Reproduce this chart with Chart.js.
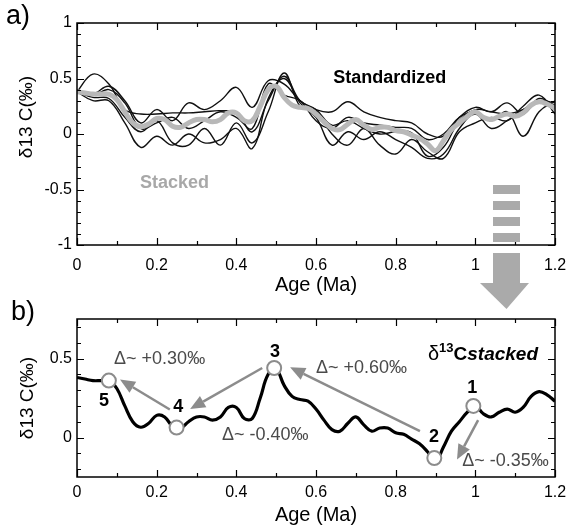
<!DOCTYPE html>
<html>
<head>
<meta charset="utf-8">
<script src="https://cdn.jsdelivr.net/npm/chart.js@4.4.0/dist/chart.umd.min.js"></script>
<style>
  body { margin: 0; background: #fff; }
  #quadro { position: relative; width: 571px; height: 530px; }
  #quadro canvas { position: absolute; left: 0; top: 0; }
</style>
</head>
<body>
<div id="quadro">
  <canvas id="grafico-a" width="571" height="530"></canvas>
  <canvas id="grafico-b" width="571" height="530"></canvas>
</div>
<script>
/* --- Dados --- */
const IDADES = [0, 0.02, 0.04, 0.06, 0.08, 0.1, 0.12, 0.14, 0.16, 0.18, 0.2, 0.22, 0.24, 0.26, 0.28, 0.3,
  0.32, 0.34, 0.36, 0.38, 0.4, 0.42, 0.44, 0.46, 0.48, 0.5, 0.52, 0.54, 0.56, 0.58, 0.6, 0.62, 0.64, 0.66,
  0.68, 0.7, 0.72, 0.74, 0.76, 0.78, 0.8, 0.82, 0.84, 0.86, 0.88, 0.9, 0.92, 0.94, 0.96, 0.98, 1, 1.02,
  1.04, 1.06, 1.08, 1.1, 1.12, 1.14, 1.16, 1.18, 1.2];
const EMPILHADO = [0.38, 0.37, 0.36, 0.36, 0.36, 0.31, 0.20, 0.10, 0.065, 0.09, 0.14, 0.13, 0.07, 0.06, 0.10,
  0.13, 0.13, 0.11, 0.13, 0.19, 0.19, 0.12, 0.12, 0.25, 0.40, 0.43, 0.33, 0.26, 0.24, 0.23, 0.18, 0.11, 0.05,
  0.04, 0.09, 0.13, 0.08, 0.04, 0.06, 0.06, 0.03, 0.02, -0.01, -0.04, -0.09, -0.15, -0.06, 0.04, 0.10, 0.16,
  0.20, 0.15, 0.13, 0.16, 0.18, 0.16, 0.19, 0.26, 0.29, 0.27, 0.23];

const IDADES_PADRAO = [0, 0.04, 0.08, 0.12, 0.16, 0.2, 0.24, 0.28, 0.32, 0.36, 0.4, 0.44, 0.48, 0.52, 0.56,
  0.6, 0.64, 0.68, 0.72, 0.76, 0.8, 0.84, 0.88, 0.92, 0.96, 1, 1.04, 1.08, 1.12, 1.16, 1.2];
const CURVA_A = [0.38, 0.54, 0.45, 0.22, 0.18, 0.18, 0.19, 0.19, 0.20, 0.21, 0.19, 0.02, 0.30, 0.52, 0.30, 0.22,
  0.08, 0.12, 0.05, 0.00, 0.02, 0.01, -0.20, -0.12, 0.12, 0.22, 0.20, 0.18, 0.22, 0.30, 0.26];
const CURVA_B = [0.38, 0.36, 0.43, 0.30, 0.10, 0.22, 0.12, 0.28, 0.22, 0.30, 0.42, 0.24, 0.48, 0.45, 0.30, 0.22,
  0.20, 0.29, 0.20, 0.15, 0.12, 0.10, 0.00, -0.02, 0.15, 0.24, 0.20, 0.28, 0.18, 0.32, 0.25];
const CURVA_C = [0.38, 0.30, 0.30, 0.10, -0.12, -0.02, -0.10, 0.00, -0.08, -0.05, 0.05, -0.13, 0.32, 0.50, 0.28, 0.15,
  -0.10, 0.02, -0.05, 0.02, -0.05, -0.12, -0.22, -0.18, 0.05, 0.18, 0.05, 0.12, 0.22, 0.30, 0.28];
const CURVA_D = [0.38, 0.33, 0.32, 0.15, 0.02, 0.12, -0.08, -0.10, 0.05, -0.10, 0.10, -0.08, 0.20, 0.55, 0.25, 0.20,
  0.00, -0.10, 0.05, -0.10, -0.18, -0.05, -0.16, -0.22, 0.02, 0.10, 0.15, 0.12, 0.25, 0.35, 0.18];
const CURVA_E = [0.40, 0.35, 0.40, 0.28, 0.05, 0.10, 0.15, 0.05, 0.12, 0.20, 0.15, 0.05, 0.45, 0.35, 0.30, 0.12,
  0.05, 0.15, 0.10, 0.08, 0.06, 0.05, -0.05, 0.00, 0.15, 0.20, 0.12, 0.20, -0.02, 0.20, 0.30];

const X_TICKS = [0, 0.2, 0.4, 0.6, 0.8, 1, 1.2];
const Y_TICKS_A = [-1, -0.5, 0, 0.5, 1];
const Y_TICKS_B = [0, 0.5];

/* marcos numerados: idade, valor */
const MARCOS_ROTULOS = ['1', '2', '3', '4', '5'];
const MARCOS_IDADE = [0.995, 0.897, 0.495, 0.25, 0.08];
const MARCOS_VALOR = [0.20, -0.13, 0.44, 0.063, 0.36];

/* setas: [idade inicio, valor inicio, idade fim, valor fim] */
const SETAS = [
  [0.233, 0.177, 0.108, 0.367],
  [0.465, 0.44, 0.284, 0.18],
  [0.861, 0.04, 0.535, 0.445],
  [1.007, 0.11, 0.954, -0.14],
];
const DELTAS = ['Δ~ +0.30‰', 'Δ~ -0.40‰', 'Δ~ +0.60‰', 'Δ~ -0.35‰'];
const DELTAS_POS = [[0.093, 0.494], [0.364, 0.013], [0.600, 0.437], [0.967, -0.152]];

const FONTE = 'Liberation Sans, Arial, sans-serif';
const CINZA = '#8c8c8c';

const pares = (xs, ys) => xs.map((x, i) => ({ x, y: ys[i] }));
const fixarTicks = (lista) => (s) => { s.ticks = lista.map(v => ({ value: v })); };

/* --- Moldura com ticks internos --- */
const moldura = {
  id: 'moldura',
  afterDraw(chart, args, opts) {
    const { ctx, chartArea: a, scales: { x, y } } = chart;
    ctx.save();
    ctx.strokeStyle = '#000';
    ctx.lineWidth = 1.5;
    ctx.strokeRect(a.left, a.top, a.right - a.left, a.bottom - a.top);
    ctx.lineWidth = 1.2;
    ctx.beginPath();
    for (let i = 0; i <= 12; i++) {
      const px = Math.round(x.getPixelForValue(i / 10)) + 0.5;
      const len = i % 2 === 0 ? 7 : 4;
      ctx.moveTo(px, a.bottom); ctx.lineTo(px, a.bottom - len);
      ctx.moveTo(px, a.top); ctx.lineTo(px, a.top + len);
    }
    for (let i = opts.yIni; i <= opts.yFim; i++) {
      const py = Math.round(y.getPixelForValue(i / 10)) + 0.5;
      const len = i % 5 === 0 ? 7 : 4;
      ctx.moveTo(a.left, py); ctx.lineTo(a.left + len, py);
      ctx.moveTo(a.right, py); ctx.lineTo(a.right - len, py);
    }
    ctx.stroke();
    ctx.restore();
  }
};

function texto(ctx, str, px, py, fonte, cor, alinhar) {
  ctx.font = fonte;
  ctx.fillStyle = cor;
  ctx.textAlign = alinhar || 'left';
  ctx.textBaseline = 'middle';
  ctx.fillText(str, px, py);
}

/* --- Anotacoes painel a --- */
const anotacoesA = {
  id: 'anotacoesA',
  afterDraw(chart) {
    const { ctx, scales: { x, y } } = chart;
    ctx.save();
    texto(ctx, 'a)', 6, 17, '27px ' + FONTE, '#000');
    texto(ctx, 'Standardized', x.getPixelForValue(0.643), y.getPixelForValue(0.505), 'bold 18px ' + FONTE, '#000');
    texto(ctx, 'Stacked', x.getPixelForValue(0.158), y.getPixelForValue(-0.44), 'bold 18px ' + FONTE, '#a8a8a8');
    ctx.translate(27, 117);
    ctx.rotate(-Math.PI / 2);
    texto(ctx, 'δ13 C(‰)', 0, 0, '19px ' + FONTE, '#000', 'center');
    ctx.restore();
  }
};

/* --- Anotacoes painel b --- */
function seta(ctx, x0, y0, x1, y1) {
  const ang = Math.atan2(y1 - y0, x1 - x0);
  const cab = 15, larg = 6.5;
  const bx = x1 - cab * Math.cos(ang), by = y1 - cab * Math.sin(ang);
  ctx.beginPath();
  ctx.moveTo(x0, y0);
  ctx.lineTo(bx, by);
  ctx.stroke();
  ctx.beginPath();
  ctx.moveTo(x1, y1);
  ctx.lineTo(bx + larg * Math.sin(ang), by - larg * Math.cos(ang));
  ctx.lineTo(bx - larg * Math.sin(ang), by + larg * Math.cos(ang));
  ctx.closePath();
  ctx.fill();
}

const anotacoesB = {
  id: 'anotacoesB',
  afterDraw(chart) {
    const { ctx, scales: { x, y } } = chart;
    ctx.save();
    texto(ctx, 'b)', 11, 313, '27px ' + FONTE, '#000');

    ctx.strokeStyle = CINZA;
    ctx.fillStyle = CINZA;
    ctx.lineWidth = 2.5;
    SETAS.forEach(([a0, v0, a1, v1]) => {
      seta(ctx, x.getPixelForValue(a0), y.getPixelForValue(v0), x.getPixelForValue(a1), y.getPixelForValue(v1));
    });

    DELTAS.forEach((t, i) => {
      texto(ctx, t, x.getPixelForValue(DELTAS_POS[i][0]), y.getPixelForValue(DELTAS_POS[i][1]), '18px ' + FONTE, '#4a4a4a');
    });

    const rotPos = [[0.992, 0.316], [0.896, 0.006], [0.497, 0.544], [0.254, 0.19], [0.068, 0.228]];
    MARCOS_ROTULOS.forEach((r, i) => {
      texto(ctx, r, x.getPixelForValue(rotPos[i][0]), y.getPixelForValue(rotPos[i][1]), 'bold 18px ' + FONTE, '#000', 'center');
    });

    /* δ13C stacked */
    let px = x.getPixelForValue(0.881);
    const py = y.getPixelForValue(0.525);
    texto(ctx, 'δ', px, py, '20px ' + FONTE, '#000');
    px += ctx.measureText('δ').width;
    texto(ctx, '13', px, py - 6, 'bold 13px ' + FONTE, '#000');
    px += ctx.measureText('13').width;
    texto(ctx, 'C', px, py, 'bold 19px ' + FONTE, '#000');
    px += ctx.measureText('C').width;
    texto(ctx, 'stacked', px, py, 'italic bold 19px ' + FONTE, '#000');

    /* seta grossa entre paineis */
    ctx.fillStyle = '#aaaaaa';
    [185, 201, 217, 233].forEach(t => ctx.fillRect(493, t, 27, 9));
    ctx.fillRect(493, 253, 27, 31);
    ctx.beginPath();
    ctx.moveTo(480, 283);
    ctx.lineTo(529, 283);
    ctx.lineTo(506.5, 309);
    ctx.closePath();
    ctx.fill();
    ctx.restore();
  }
};

function eixoX(altura, pad) {
  return {
    type: 'linear', min: 0, max: 1.2,
    afterBuildTicks: fixarTicks(X_TICKS),
    afterFit: (s) => { s.height = altura; s.paddingLeft = 0; s.paddingRight = 0; },
    grid: { display: false, drawTicks: false },
    border: { display: false },
    ticks: { padding: pad, color: '#000', font: { family: FONTE, size: 16 }, callback: (v) => String(v), maxRotation: 0 },
    title: { display: true, text: 'Age (Ma)', color: '#000', font: { family: FONTE, size: 20 }, padding: 0 },
  };
}

/* --- Painel a: curvas padronizadas --- */
function renderizarPainelA() {
  const ctx = document.getElementById('grafico-a').getContext('2d');
  const pretas = [CURVA_A, CURVA_B, CURVA_C, CURVA_D, CURVA_E].map(c => ({
    data: pares(IDADES_PADRAO, c),
    borderColor: '#111',
    borderWidth: 1.4,
    tension: 0.4,
    order: 2,
  }));
  new Chart(ctx, {
    type: 'line',
    data: {
      datasets: [
        ...pretas,
        { data: pares(IDADES, EMPILHADO), borderColor: '#b8b8b8', borderWidth: 5, tension: 0.4, order: 1 },
      ],
    },
    options: {
      responsive: false,
      animation: false,
      layout: { padding: { left: 0, right: 16, top: 23, bottom: 233 } },
      elements: { point: { radius: 0 } },
      plugins: { legend: { display: false }, tooltip: { enabled: false }, moldura: { yIni: -10, yFim: 10 } },
      scales: {
        x: eixoX(52, 11),
        y: {
          min: -1, max: 1,
          afterBuildTicks: fixarTicks(Y_TICKS_A),
          afterFit: (s) => { s.width = 77; },
          grid: { display: false, drawTicks: false },
          border: { display: false },
          ticks: { padding: 5, color: '#000', font: { family: FONTE, size: 16 }, callback: (v) => String(v) },
        },
      },
    },
    plugins: [moldura, anotacoesA],
  });
}

/* --- Painel b: curva empilhada --- */
function renderizarPainelB() {
  const ctx = document.getElementById('grafico-b').getContext('2d');
  new Chart(ctx, {
    type: 'line',
    data: {
      datasets: [
        {
          data: pares(MARCOS_IDADE, MARCOS_VALOR),
          showLine: false,
          pointRadius: 7,
          pointBackgroundColor: '#fff',
          pointBorderColor: CINZA,
          pointBorderWidth: 2,
          order: 0,
        },
        { data: pares(IDADES, EMPILHADO), borderColor: '#000', borderWidth: 3.2, tension: 0.4, pointRadius: 0, order: 1 },
      ],
    },
    options: {
      responsive: false,
      animation: false,
      layout: { padding: { left: 0, right: 16, top: 319, bottom: 3 } },
      plugins: { legend: { display: false }, tooltip: { enabled: false }, moldura: { yIni: -2, yFim: 7 } },
      scales: {
        x: eixoX(50, 6),
        y: {
          min: -0.25, max: 0.75,
          afterBuildTicks: fixarTicks(Y_TICKS_B),
          afterFit: (s) => { s.width = 77; },
          grid: { display: false, drawTicks: false },
          border: { display: false },
          ticks: { padding: 5, color: '#000', font: { family: FONTE, size: 16 }, callback: (v) => String(v) },
          title: { display: true, text: 'δ13 C(‰)', color: '#000', font: { family: FONTE, size: 19 }, padding: { top: 16 } },
        },
      },
    },
    plugins: [moldura, anotacoesB],
  });
}

renderizarPainelA();
renderizarPainelB();
</script>
</body>
</html>
